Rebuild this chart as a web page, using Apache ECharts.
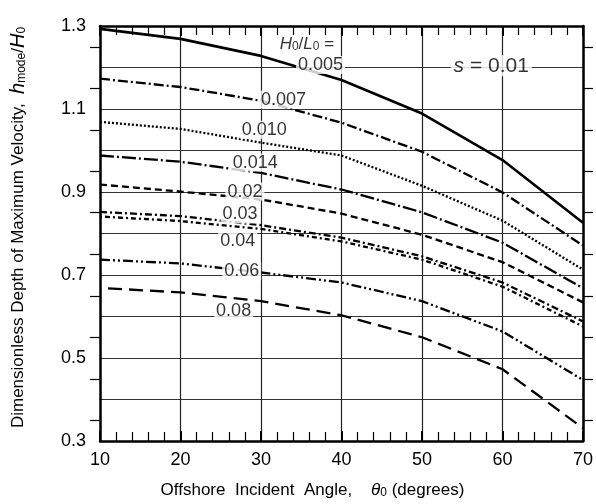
<!DOCTYPE html>
<html>
<head>
<meta charset="utf-8">
<script src="https://cdn.jsdelivr.net/npm/echarts@6/dist/echarts.min.js"></script>
<style>
html,body{margin:0;padding:0;background:#fff;}
#chart{width:596px;height:504px;}
</style>
</head>
<body>
<div id="chart"></div>
<script>
// ---- data ----
var angles = [10, 20, 30, 40, 50, 60, 70];
var angles008 = [11, 20, 30, 40, 50, 60, 70];
var s005 = [1.293, 1.269, 1.228, 1.170, 1.089, 0.977, 0.826];
var s007 = [1.173, 1.153, 1.120, 1.067, 0.997, 0.899, 0.771];
var s010 = [1.069, 1.052, 1.019, 0.988, 0.915, 0.831, 0.713];
var s014 = [0.988, 0.973, 0.946, 0.906, 0.851, 0.778, 0.668];
var s02  = [0.918, 0.901, 0.882, 0.848, 0.797, 0.731, 0.634];
var s03  = [0.852, 0.842, 0.820, 0.790, 0.745, 0.682, 0.588];
var s04  = [0.841, 0.830, 0.811, 0.781, 0.737, 0.672, 0.576];
var s06  = [0.737, 0.728, 0.706, 0.682, 0.637, 0.564, 0.447];
var s08  = [0.668, 0.658, 0.637, 0.603, 0.550, 0.473, 0.331];
var curveNames = ['0.005', '0.007', '0.010', '0.014', '0.02', '0.03', '0.04', '0.06', '0.08'];
var labelX = [37.4, 32.8, 30.4, 29.3, 28.0, 27.4, 27.1, 27.6, 26.6];
var labelY = [1.206, 1.122, 1.050, 0.971, 0.901, 0.846, 0.781, 0.709, 0.612];
var xTicks = [10, 20, 30, 40, 50, 60, 70];
var yTickLabels = ['0.3', '0.5', '0.7', '0.9', '1.1', '1.3'];

var FONT = '"Liberation Sans", Arial, Helvetica, sans-serif';
var chart = echarts.init(document.getElementById('chart'), null, {renderer: 'canvas'});

function pairs(xs, ys) { return xs.map(function (x, i) { return [x, ys[i]]; }); }

var curves = [
  {d: pairs(angles, s005), type: 'solid', w: 2.6},
  {d: pairs(angles, s007), type: [10, 3, 2, 3], w: 2.3},
  {d: pairs(angles, s010), type: [2, 2], w: 2.3},
  {d: pairs(angles, s014), type: [14, 3, 2, 3], w: 2.3},
  {d: pairs(angles, s02),  type: [7, 4], w: 2.3},
  {d: pairs(angles, s03),  type: [7, 3, 2, 3], w: 2.3},
  {d: pairs(angles, s04),  type: [2, 3, 5, 3], w: 2.3},
  {d: pairs(angles, s06),  type: [10, 3, 2, 3, 2, 3], w: 2.3},
  {d: pairs(angles008, s08), type: [14, 7], w: 2.3}
];

var series = curves.map(function (c, i) {
  return {
    type: 'line', name: curveNames[i], data: c.d, symbol: 'none', z: 3,
    lineStyle: {color: '#000', width: c.w, type: c.type},
    animation: false, silent: true
  };
});

var labelData = curveNames.map(function (n, i) { return [labelX[i], labelY[i], n]; });
series.push({
  type: 'scatter', data: labelData, symbolSize: 0, z: 10, silent: true, animation: false,
  label: {
    show: true, position: 'inside', color: '#000', fontFamily: FONT, fontSize: 18,
    backgroundColor: '#fff', padding: [0, 2, 0, 2],
    formatter: function (p) { return p.value[2]; }
  }
});
// H0/L0 = header and s = 0.01
series.push({
  type: 'scatter', data: [[35.7, 1.257, 'h'], [58.6, 1.204, 's']], symbolSize: 0, z: 10,
  silent: true, animation: false,
  label: {
    show: true, position: 'inside', color: '#000', fontFamily: FONT,
    backgroundColor: '#fff', padding: [0, 3, 0, 3],
    formatter: function (p) {
      return p.value[2] === 'h' ? '{i|H}{sb|0}{n|/}{i|L}{sb|0}{n| =}' : '{si|s}{sn| = 0.01}';
    },
    rich: {
      i: {fontSize: 17, fontStyle: 'italic', fontFamily: FONT, color: '#000'},
      sb: {fontSize: 12, fontFamily: FONT, color: '#000', verticalAlign: 'bottom', padding: [5, 0, 0, 0]},
      n: {fontSize: 17, fontFamily: FONT, color: '#000'},
      si: {fontSize: 21, fontStyle: 'italic', fontFamily: FONT, color: '#000'},
      sn: {fontSize: 21, fontFamily: FONT, color: '#000'}
    }
  }
});

var tickStyle = {color: '#000', width: 1.2};
var option = {
  backgroundColor: '#fff',
  animation: false,
  grid: {left: 96, right: 9, top: 26, bottom: 62, containLabel: false},
  xAxis: [{
    type: 'value', min: 10, max: 70, interval: 10, position: 'bottom',
    axisLine: {show: true, lineStyle: {color: '#000', width: 2.5}},
    axisTick: {show: true, inside: true, length: 10, lineStyle: {color: '#000', width: 2}},
    minorTick: {show: true, splitNumber: 5, length: 9, lineStyle: tickStyle},
    splitLine: {show: true, lineStyle: {color: '#222', width: 1.2}},
    axisLabel: {color: '#000', fontSize: 18, fontFamily: FONT, margin: 10,
      formatter: function (v) { return xTicks.indexOf(v) >= 0 ? String(v) : ''; }},
    name: 'Offshore  Incident  Angle,    {it|θ}{sb|0} (degrees)',
    nameLocation: 'middle', nameGap: 41,
    nameTextStyle: {color: '#000', fontSize: 17, fontFamily: FONT, padding: [0, 58, 0, 0],
      rich: {
        it: {fontSize: 17, fontStyle: 'italic', fontFamily: FONT, color: '#000'},
        sb: {fontSize: 12, fontFamily: FONT, color: '#000', verticalAlign: 'bottom', padding: [5, 0, 0, 0]}
      }}
  }, {
    type: 'value', min: 10, max: 70, interval: 10, position: 'top',
    axisLine: {show: true, lineStyle: {color: '#000', width: 2.5}},
    axisTick: {show: true, inside: true, length: 10, lineStyle: {color: '#000', width: 2}},
    minorTick: {show: true, splitNumber: 5, length: 9, lineStyle: tickStyle},
    splitLine: {show: false}, axisLabel: {show: false}
  }],
  yAxis: [{
    type: 'value', min: 0.3, max: 1.3, interval: 0.1, position: 'left',
    axisLine: {show: true, lineStyle: {color: '#000', width: 2.5}},
    axisTick: {show: false},
    minorTick: {show: true, splitNumber: 2, length: 10, lineStyle: tickStyle},
    splitLine: {show: true, lineStyle: {color: '#333', width: 1.2}},
    axisLabel: {color: '#000', fontSize: 18, fontFamily: FONT, margin: 14,
      formatter: function (v) {
        var k = Math.round(v * 10);
        var s = (k / 10).toFixed(1);
        return yTickLabels.indexOf(s) >= 0 ? s : '';
      }},
    name: 'Dimensionless Depth of Maximum Velocity,  {it|h}{sb|mode}{n|/}{it|H}{sb|0}',
    nameLocation: 'middle', nameGap: 72, nameRotate: 90,
    nameTextStyle: {color: '#000', fontSize: 17, fontFamily: FONT, padding: [0, 0, 0, 12],
      rich: {
        it: {fontSize: 20, fontStyle: 'italic', fontFamily: FONT, color: '#000'},
        n: {fontSize: 17, fontFamily: FONT, color: '#000'},
        sb: {fontSize: 12, fontFamily: FONT, color: '#000', verticalAlign: 'bottom', padding: [5, 0, 0, 0]}
      }}
  }, {
    type: 'value', min: 0.3, max: 1.3, interval: 0.1, position: 'right',
    axisLine: {show: true, lineStyle: {color: '#000', width: 2.5}},
    axisTick: {show: false},
    minorTick: {show: true, splitNumber: 2, length: 10, lineStyle: tickStyle},
    splitLine: {show: false}, axisLabel: {show: false}
  }],
  series: series
};
chart.setOption(option);
</script>
</body>
</html>
